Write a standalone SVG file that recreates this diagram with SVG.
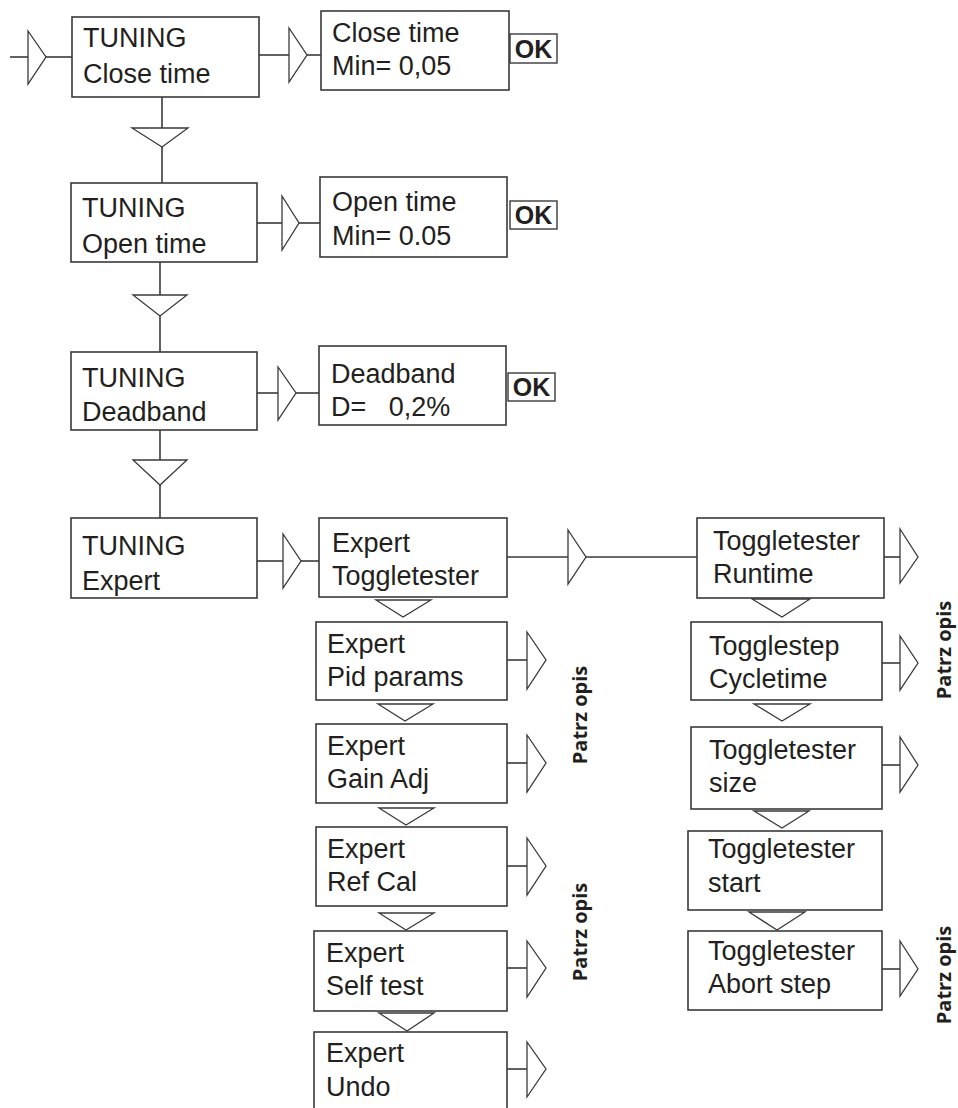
<svg xmlns="http://www.w3.org/2000/svg" width="958" height="1108" viewBox="0 0 958 1108">
<style>
.box{fill:#fff;stroke:#3a3a3a;stroke-width:1.6}
.ok{fill:#fff;stroke:#3a3a3a;stroke-width:1.4}
.ln{stroke:#3a3a3a;stroke-width:1.6;fill:none}
.tri{fill:#fff;stroke:#3a3a3a;stroke-width:1.3;stroke-linejoin:miter}
.t{font-family:"Liberation Sans",Arial,sans-serif;font-size:27px;fill:#231f20}
.okt{font-family:"Liberation Sans",Arial,sans-serif;font-size:25px;font-weight:bold;fill:#231f20}
.note{font-family:"Open Sans","DejaVu Sans",sans-serif;font-size:20px;font-weight:bold;fill:#231f20}
</style>
<rect width="958" height="1108" fill="#fff"/>

<g id="connectors">
  <line class="ln" x1="10" y1="57" x2="28" y2="57"/>
  <polygon class="tri" points="28,31 46,57 28,84"/>
  <line class="ln" x1="46" y1="57" x2="72" y2="57"/>
  <line class="ln" x1="259" y1="55" x2="289" y2="55"/>
  <polygon class="tri" points="289,28 307,55 289,82"/>
  <line class="ln" x1="307" y1="55" x2="321" y2="55"/>
  <line class="ln" x1="162" y1="97" x2="162" y2="128"/>
  <polygon class="tri" points="132,128 188,128 162,147"/>
  <line class="ln" x1="162" y1="147" x2="162" y2="183"/>
  <line class="ln" x1="257" y1="223" x2="282" y2="223"/>
  <polygon class="tri" points="282,196 299,223 282,250"/>
  <line class="ln" x1="299" y1="223" x2="320" y2="223"/>
  <line class="ln" x1="160" y1="262" x2="160" y2="295"/>
  <polygon class="tri" points="133,295 187,295 160,316"/>
  <line class="ln" x1="160" y1="316" x2="160" y2="352"/>
  <line class="ln" x1="257" y1="393" x2="278" y2="393"/>
  <polygon class="tri" points="278,367 296,393 278,420"/>
  <line class="ln" x1="296" y1="393" x2="319" y2="393"/>
  <line class="ln" x1="160" y1="430" x2="160" y2="460"/>
  <polygon class="tri" points="133,460 187,460 160,485"/>
  <line class="ln" x1="160" y1="485" x2="160" y2="518"/>
  <line class="ln" x1="257" y1="561" x2="283" y2="561"/>
  <polygon class="tri" points="283,534 301,561 283,588"/>
  <line class="ln" x1="301" y1="561" x2="319" y2="561"/>
  <line class="ln" x1="507" y1="557" x2="568" y2="557"/>
  <polygon class="tri" points="568,530 586,557 568,584"/>
  <line class="ln" x1="586" y1="557" x2="697" y2="557"/>
  <polygon class="tri" points="376,600 431,600 403,617"/>
  <line class="ln" x1="507" y1="660" x2="527" y2="660"/>
  <polygon class="tri" points="527,632 546,660 527,689"/>
  <polygon class="tri" points="378,704 433,704 405,721"/>
  <line class="ln" x1="507" y1="763" x2="527" y2="763"/>
  <polygon class="tri" points="527,735 546,763 527,792"/>
  <polygon class="tri" points="379,808 434,808 406,825"/>
  <line class="ln" x1="507" y1="866" x2="527" y2="866"/>
  <polygon class="tri" points="527,838 546,866 527,895"/>
  <polygon class="tri" points="379,913 434,913 406,930"/>
  <line class="ln" x1="507" y1="968" x2="527" y2="968"/>
  <polygon class="tri" points="527,941 546,968 527,997"/>
  <polygon class="tri" points="379,1013 434,1013 407,1031"/>
  <line class="ln" x1="507" y1="1069" x2="527" y2="1069"/>
  <polygon class="tri" points="527,1042 546,1069 527,1097"/>
  <line class="ln" x1="884" y1="557" x2="900" y2="557"/>
  <polygon class="tri" points="900,529 918,557 900,583"/>
  <polygon class="tri" points="752,599 810,599 782,617"/>
  <line class="ln" x1="882" y1="663" x2="900" y2="663"/>
  <polygon class="tri" points="900,636 918,663 900,690"/>
  <polygon class="tri" points="754,704 810,704 782,721"/>
  <line class="ln" x1="882" y1="765" x2="900" y2="765"/>
  <polygon class="tri" points="900,737 918,765 900,792"/>
  <polygon class="tri" points="754,811 809,811 782,828"/>
  <polygon class="tri" points="749,912 805,912 777,930"/>
  <line class="ln" x1="882" y1="969" x2="900" y2="969"/>
  <polygon class="tri" points="900,941 918,969 900,996"/>
</g>

<g id="n_tuning_close">
  <rect class="box" x="72" y="17" width="187" height="80"/>
  <text class="t" x="83" y="47">TUNING</text>
  <text class="t" x="83" y="83">Close time</text>
</g>
<g id="n_close_min">
  <rect class="box" x="321" y="11" width="188" height="79"/>
  <text class="t" x="332" y="42">Close time</text>
  <text class="t" x="332" y="75">Min= 0,05</text>
</g>
<g id="ok1">
  <rect class="ok" x="510" y="34" width="47" height="29"/>
  <text class="okt" x="533.5" y="58" text-anchor="middle">OK</text>
</g>

<g id="n_tuning_open">
  <rect class="box" x="71" y="183" width="186" height="79"/>
  <text class="t" x="82" y="217">TUNING</text>
  <text class="t" x="82" y="253">Open time</text>
</g>
<g id="n_open_min">
  <rect class="box" x="320" y="177" width="187" height="80"/>
  <text class="t" x="332" y="211">Open time</text>
  <text class="t" x="332" y="245">Min= 0.05</text>
</g>
<g id="ok2">
  <rect class="ok" x="510" y="201" width="47" height="28"/>
  <text class="okt" x="533.5" y="224" text-anchor="middle">OK</text>
</g>

<g id="n_tuning_deadband">
  <rect class="box" x="71" y="352" width="186" height="78"/>
  <text class="t" x="82" y="387">TUNING</text>
  <text class="t" x="82" y="421">Deadband</text>
</g>
<g id="n_deadband_d">
  <rect class="box" x="319" y="346" width="187" height="79"/>
  <text class="t" x="331" y="383">Deadband</text>
  <text class="t" x="331" y="416" xml:space="preserve">D=   0,2%</text>
</g>
<g id="ok3">
  <rect class="ok" x="508" y="373" width="47" height="28"/>
  <text class="okt" x="531.5" y="396" text-anchor="middle">OK</text>
</g>

<g id="n_tuning_expert">
  <rect class="box" x="71" y="518" width="186" height="80"/>
  <text class="t" x="82" y="555">TUNING</text>
  <text class="t" x="82" y="590">Expert</text>
</g>

<g id="n_expert_toggletester">
  <rect class="box" x="319" y="518" width="188" height="79"/>
  <text class="t" x="332" y="552">Expert</text>
  <text class="t" x="332" y="585">Toggletester</text>
</g>
<g id="n_expert_pid">
  <rect class="box" x="316" y="622" width="191" height="78"/>
  <text class="t" x="327" y="653">Expert</text>
  <text class="t" x="327" y="686">Pid params</text>
</g>
<g id="n_expert_gain">
  <rect class="box" x="316" y="724" width="191" height="79"/>
  <text class="t" x="327" y="755">Expert</text>
  <text class="t" x="327" y="788">Gain Adj</text>
</g>
<g id="n_expert_refcal">
  <rect class="box" x="316" y="827" width="191" height="79"/>
  <text class="t" x="327" y="858">Expert</text>
  <text class="t" x="327" y="891">Ref Cal</text>
</g>
<g id="n_expert_selftest">
  <rect class="box" x="314" y="931" width="193" height="80"/>
  <text class="t" x="326" y="962">Expert</text>
  <text class="t" x="326" y="995">Self test</text>
</g>
<g id="n_expert_undo">
  <rect class="box" x="314" y="1032" width="193" height="90"/>
  <text class="t" x="326" y="1062">Expert</text>
  <text class="t" x="326" y="1096">Undo</text>
</g>

<g id="n_tt_runtime">
  <rect class="box" x="697" y="518" width="187" height="80"/>
  <text class="t" x="713" y="550">Toggletester</text>
  <text class="t" x="713" y="583">Runtime</text>
</g>
<g id="n_ts_cycletime">
  <rect class="box" x="691" y="622" width="191" height="78"/>
  <text class="t" x="709" y="655">Togglestep</text>
  <text class="t" x="709" y="688">Cycletime</text>
</g>
<g id="n_tt_size">
  <rect class="box" x="691" y="727" width="191" height="82"/>
  <text class="t" x="709" y="759">Toggletester</text>
  <text class="t" x="709" y="792">size</text>
</g>
<g id="n_tt_start">
  <rect class="box" x="688" y="831" width="194" height="79"/>
  <text class="t" x="708" y="858">Toggletester</text>
  <text class="t" x="708" y="892">start</text>
</g>
<g id="n_tt_abort">
  <rect class="box" x="688" y="931" width="194" height="79"/>
  <text class="t" x="708" y="960">Toggletester</text>
  <text class="t" x="708" y="993">Abort step</text>
</g>

<g id="notes">
  <text class="note" transform="translate(587,715) rotate(-90)" text-anchor="middle">Patrz opis</text>
  <text class="note" transform="translate(587,932) rotate(-90)" text-anchor="middle">Patrz opis</text>
  <text class="note" transform="translate(951,650) rotate(-90)" text-anchor="middle">Patrz opis</text>
  <text class="note" transform="translate(951,975) rotate(-90)" text-anchor="middle">Patrz opis</text>
</g>
</svg>
